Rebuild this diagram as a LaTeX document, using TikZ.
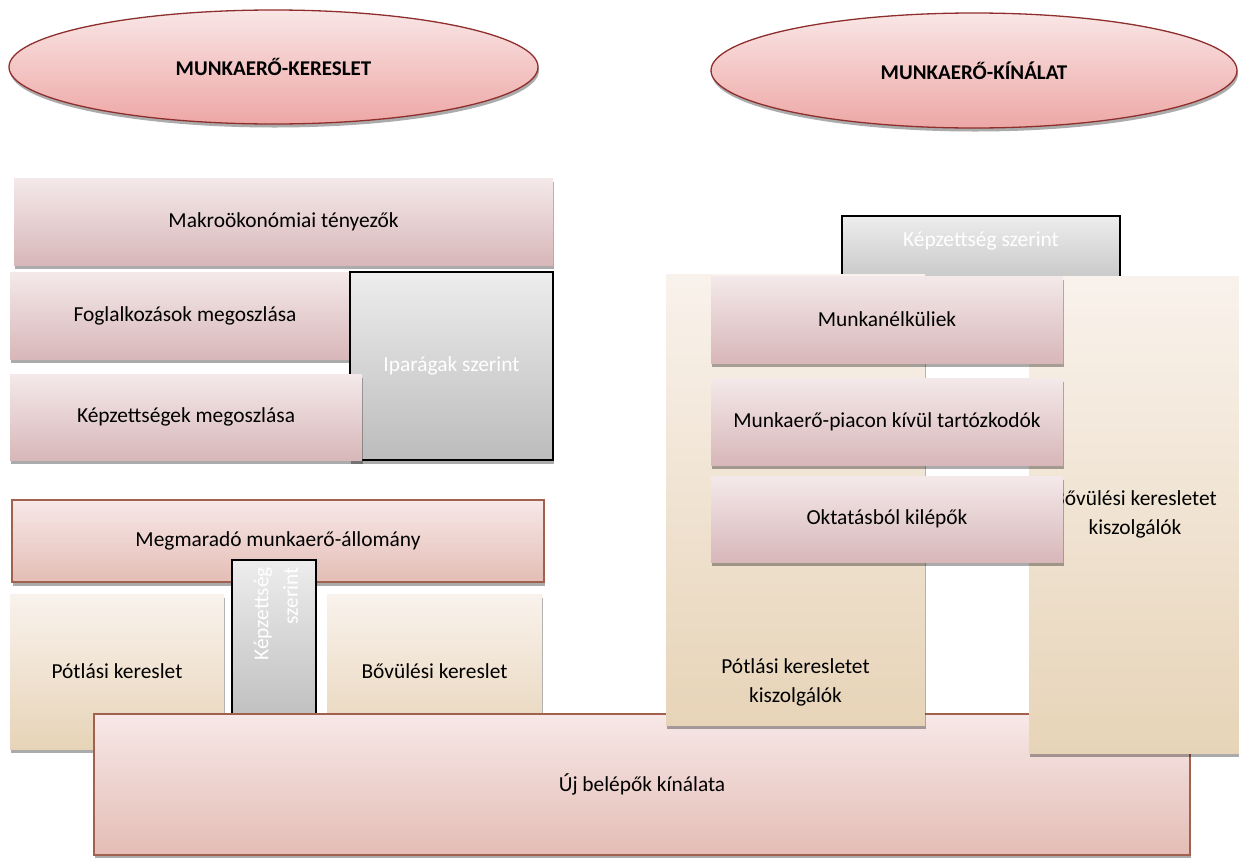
\documentclass[tikz,border=0pt]{standalone}
\usepackage{fontspec}
\setmainfont{Carlito}
\usetikzlibrary{shapes.geometric,shadows}
\definecolor{elltop}{HTML}{F9E6E6}
\definecolor{ellbot}{HTML}{EDA7A5}
\definecolor{elldraw}{HTML}{8E2F2D}
\definecolor{pinktop}{HTML}{F4E9EA}
\definecolor{pinkbot}{HTML}{D8B7B9}
\definecolor{salmtop}{HTML}{F7E8E7}
\definecolor{salmbot}{HTML}{E4BDB6}
\definecolor{salmdraw}{HTML}{A0614F}
\definecolor{beigetop}{HTML}{F9F2EC}
\definecolor{beigebot}{HTML}{E7D4B8}
\definecolor{graytop}{HTML}{EDEDED}
\definecolor{graybot}{HTML}{BCBCBC}
\begin{document}
\begin{tikzpicture}[x=1pt,y=-1pt,
  shad/.style={general shadow={fill=black,opacity=.33,shadow xshift=1pt,shadow yshift=-3.5pt}},
  txt/.style={font=\fontsize{21.4}{29.5}\selectfont,align=center,inner sep=0pt,outer sep=0pt},
  basebox/.style={rectangle,inner sep=0pt,outer sep=0pt,shad,txt},
  ellbox/.style={ellipse,shad,top color=elltop,bottom color=ellbot,draw=elldraw,line width=1.3pt,
     inner sep=0pt,font=\fontsize{21}{25}\selectfont\bfseries},
  pinkbox/.style={basebox,top color=pinktop,bottom color=pinkbot},
  salmbox/.style={basebox,top color=salmtop,bottom color=salmbot,draw=salmdraw,line width=1.1pt},
  beigebox/.style={basebox,top color=beigetop,bottom color=beigebot},
  graybox/.style={basebox,top color=graytop,bottom color=graybot,draw=black,line width=1.4pt,text=white},
  whitetxt/.style={txt,text=white}
]
\useasboundingbox (0,0) rectangle (1239,857);

% ellipses
\node[ellbox,minimum width=529,minimum height=114] (kereslet) at (273.5,67) {MUNKAERŐ-KERESLET};
\node[ellbox,minimum width=526,minimum height=115] (kinalat) at (974,70.5) {MUNKAERŐ-KÍNÁLAT};

% left upper block
\node[pinkbox,minimum width=539,minimum height=87] (makro) at (283.5,221.5) {Makroökonómiai tényezők};
\node[pinkbox,minimum width=350,minimum height=87] (fogl) at (185,315.5) {Foglalkozások megoszlása};
\node[graybox,minimum width=203,minimum height=188] (ipar) at (451.5,366) {Iparágak szerint};
\node[pinkbox,minimum width=352,minimum height=86] (kepzes) at (186,417) {Képzettségek megoszlása};

% left lower block
\node[salmbox,minimum width=532,minimum height=82] (megmar) at (278,541) {Megmaradó munkaerő-állomány};
\node[graybox,minimum width=84,minimum height=170] (kepl) at (274,645) {};
\node[whitetxt,rotate=90,anchor=east,align=right] (keplt) at (276,567) {Képzettség\\szerint};
\node[beigebox,minimum width=214,minimum height=155] (potlas) at (117,671.5) {Pótlási kereslet};
\node[beigebox,minimum width=215,minimum height=155] (bovules) at (434.5,671.5) {Bővülési kereslet};

% right gray
\node[graybox,minimum width=278,minimum height=84] (kepr) at (981,258) {};
\node[whitetxt] (keprt) at (981,241) {Képzettség szerint};

% bottom wide box
\node[salmbox,minimum width=1096,minimum height=141] (uj) at (642,784.5) {Új belépők kínálata};

% right beige columns
\node[beigebox,minimum width=259,minimum height=451] (pkk) at (795.5,499.5) {};
\node[txt] (pkkt) at (795.5,682.5) {Pótlási keresletet\\kiszolgálók};
\node[beigebox,minimum width=212,minimum height=477] (bkk) at (1135,514.5) {Bővülési keresletet\\kiszolgálók};

% right pink boxes
\node[pinkbox,minimum width=352,minimum height=87] (munkan) at (887,319.5) {Munkanélküliek};
\node[pinkbox,minimum width=352,minimum height=87] (kivul) at (887,421.5) {Munkaerő-piacon kívül tartózkodók};
\node[pinkbox,minimum width=352,minimum height=86] (okt) at (887,519) {Oktatásból kilépők};
\end{tikzpicture}
\end{document}
